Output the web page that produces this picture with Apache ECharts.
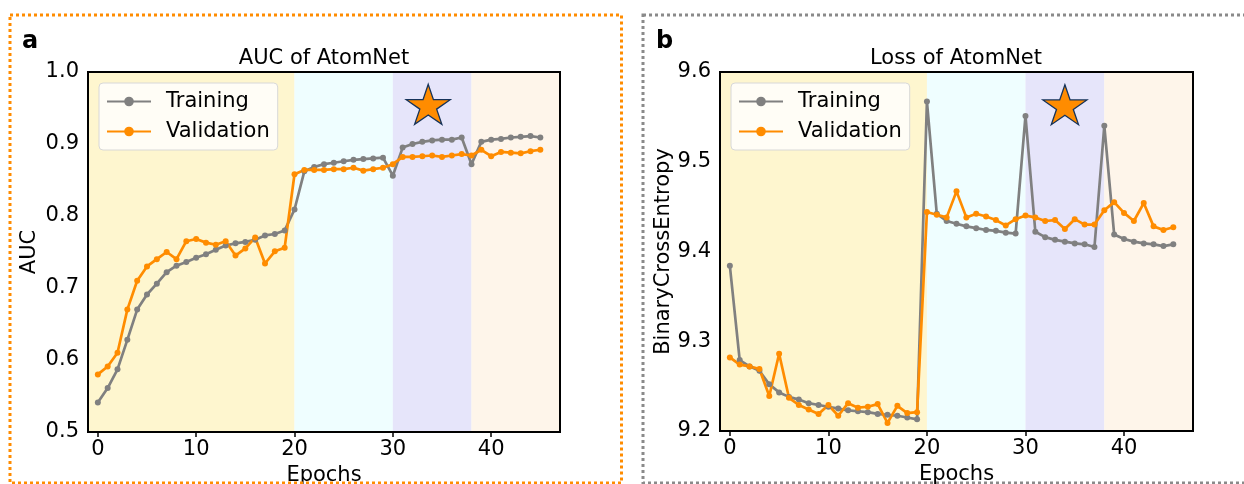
<!DOCTYPE html>
<html><head><meta charset="utf-8">
<script src="https://cdn.jsdelivr.net/npm/echarts@6/dist/echarts.min.js"></script>
<style>html,body{margin:0;padding:0;background:#fff}#c{width:1244px;height:484px}</style>
</head><body><div id="c"></div>
<script>
const epochs = Array.from({length:46},(_, i)=>i);
const aucTrain = [0.541,0.561,0.587,0.628,0.670,0.691,0.706,0.722,0.731,0.736,0.742,0.747,0.753,0.759,0.762,0.764,0.767,0.773,0.775,0.780,
  0.809,0.862,0.868,0.872,0.874,0.876,0.878,0.879,0.880,0.881,0.856,0.895,0.900,0.903,0.905,0.906,0.906,0.909,0.872,0.903,0.906,0.907,0.909,0.910,0.911,0.909];
const aucVal = [0.580,0.591,0.610,0.670,0.710,0.730,0.740,0.750,0.740,0.765,0.768,0.763,0.760,0.765,0.745,0.755,0.770,0.734,0.751,0.756,
  0.858,0.864,0.864,0.864,0.865,0.865,0.867,0.863,0.865,0.867,0.872,0.882,0.882,0.883,0.884,0.882,0.884,0.886,0.884,0.892,0.883,0.889,0.888,0.887,0.890,0.892];
const lossTrain = [9.384,9.279,9.272,9.267,9.252,9.243,9.238,9.235,9.231,9.229,9.227,9.225,9.223,9.222,9.221,9.219,9.218,9.217,9.215,9.213,
  9.567,9.442,9.434,9.431,9.428,9.426,9.424,9.423,9.421,9.420,9.551,9.422,9.416,9.413,9.411,9.409,9.408,9.405,9.540,9.419,9.414,9.411,9.409,9.408,9.406,9.408];
const lossVal = [9.282,9.274,9.272,9.269,9.239,9.286,9.237,9.229,9.224,9.219,9.229,9.217,9.231,9.226,9.227,9.230,9.209,9.228,9.220,9.221,
  9.444,9.441,9.438,9.467,9.438,9.442,9.439,9.435,9.429,9.436,9.440,9.438,9.434,9.435,9.425,9.436,9.430,9.430,9.446,9.455,9.443,9.434,9.454,9.428,9.424,9.427];
const phases = [[-1,20],[20,30],[30,38],[38,47]];
const phaseColors = ['rgb(254,246,207)','rgb(239,254,255)','rgb(230,229,250)','rgb(254,245,234)'];
const xTicks = [0,10,20,30,40];
const yTicksA = [0.5,0.6,0.7,0.8,0.9,1.0];
const yTicksB = [9.2,9.3,9.4,9.5,9.6];
const starA = [[33.6,0.955]];
const starB = [[34.0,9.5636]];

const FONT = 'DejaVu Sans';
const FS = 21;
const GRAY = '#808080', ORANGE = '#FF8C00';
const starPath = 'path://M0,-50L11.23,-15.45L47.55,-15.45L18.16,5.9L29.39,40.45L0,19.1L-29.39,40.45L-18.16,5.9L-47.55,-15.45L-11.23,-15.45Z';

const chart = echarts.init(document.getElementById('c'), null, {renderer:'canvas'});
const pair = (arr)=>epochs.map((e,i)=>[e,arr[i]]);

function xAxis(gi){
  return {type:'value', gridIndex:gi, min:-1, max:47, name:'Epochs', nameLocation:'middle', nameGap:33,
    nameTextStyle:{fontFamily:FONT,fontSize:FS,color:'#000'},
    axisLine:{show:false}, splitLine:{show:false},
    axisTick:{show:true, inside:false, length:5, lineStyle:{color:'#000',width:1.5}, customValues:xTicks},
    axisLabel:{fontFamily:FONT,fontSize:FS,color:'#000',margin:7, customValues:xTicks, formatter:v=>String(v)}};
}
function yAxis(gi,name,ticks,gap){
  return {type:'value', gridIndex:gi, min:ticks[0], max:ticks[ticks.length-1], name:name, nameLocation:'middle', nameGap:gap,
    nameTextStyle:{fontFamily:FONT,fontSize:FS,color:'#000'},
    axisLine:{show:false}, splitLine:{show:false},
    axisTick:{show:true, inside:false, length:5, lineStyle:{color:'#000',width:1.5}, customValues:ticks},
    axisLabel:{fontFamily:FONT,fontSize:FS,color:'#000',margin:9, customValues:ticks, formatter:v=>v.toFixed(1)}};
}
function bands(){
  return {silent:true, itemStyle:{opacity:1}, data: phases.map((p,i)=>[{xAxis:p[0], itemStyle:{color:phaseColors[i]}},{xAxis:p[1]}])};
}
function lineSeries(name,data,color,gi,withBands){
  const s = {type:'line', name:name, xAxisIndex:gi, yAxisIndex:gi, data:data, symbol:'circle', symbolSize:6,
    lineStyle:{color:color,width:2.7}, itemStyle:{color:color}, animation:false, z:3};
  if(withBands){ s.markArea = bands(); }
  return s;
}
function starSeries(gi,data){
  return {type:'scatter', xAxisIndex:gi, yAxisIndex:gi, data:data, symbol:starPath, symbolSize:[44,42], symbolKeepAspect:true,
    itemStyle:{color:ORANGE,opacity:1,borderColor:'#16335a',borderWidth:1.3}, animation:false, z:4, silent:true};
}
function legend(left){
  return {left:left, top:83, orient:'vertical', itemWidth:44, itemHeight:12, itemGap:9,
    backgroundColor:'rgba(255,255,255,0.8)', borderColor:'#d8d8d8', borderWidth:1, borderRadius:4,
    padding:[8,8,8,7], selectedMode:false,
    textStyle:{fontFamily:FONT,fontSize:FS,color:'#000',padding:[0,0,0,10]},
    data:['Training','Validation']};
}

chart.setOption({
  animation:false,
  title:[
    {text:'AUC of AtomNet', left:324, top:48, padding:0, textAlign:'center', textStyle:{fontFamily:FONT,fontSize:FS,fontWeight:'normal',color:'#000'}},
    {text:'Loss of AtomNet', left:956, top:48, padding:0, textAlign:'center', textStyle:{fontFamily:FONT,fontSize:FS,fontWeight:'normal',color:'#000'}},
    {text:'a', left:22, top:30, padding:0, textStyle:{fontFamily:FONT,fontSize:24,fontWeight:'bold',color:'#000'}},
    {text:'b', left:656, top:30, padding:0, textStyle:{fontFamily:FONT,fontSize:24,fontWeight:'bold',color:'#000'}}
  ],
  grid:[
    {left:88, top:72, width:472, height:360, show:true, borderColor:'#000', borderWidth:2, backgroundColor:'transparent', z:6, outerBoundsMode:'none', containLabel:false},
    {left:720, top:72, width:473, height:359, show:true, borderColor:'#000', borderWidth:2, backgroundColor:'transparent', z:6, outerBoundsMode:'none', containLabel:false}
  ],
  xAxis:[xAxis(0), xAxis(1)],
  yAxis:[yAxis(0,'AUC',yTicksA,48), yAxis(1,'BinaryCrossEntropy',yTicksB,45)],
  legend:[legend(99), legend(731)],
  graphic:[
    {type:'rect', shape:{x:10,y:15,width:611.5,height:468}, style:{fill:null, stroke:'#FF8C00', lineWidth:3, lineDash:[3,3]}, z:10, silent:true},
    {type:'rect', shape:{x:643,y:15,width:640,height:468}, style:{fill:null, stroke:'#8a8a8a', lineWidth:3, lineDash:[3,3]}, z:10, silent:true}
  ],
  series:[
    lineSeries('Training', pair(aucTrain), GRAY, 0, true),
    lineSeries('Validation', pair(aucVal), ORANGE, 0, false),
    starSeries(0, starA),
    lineSeries('Training', pair(lossTrain), GRAY, 1, true),
    lineSeries('Validation', pair(lossVal), ORANGE, 1, false),
    starSeries(1, starB)
  ]
});
</script></body></html>
